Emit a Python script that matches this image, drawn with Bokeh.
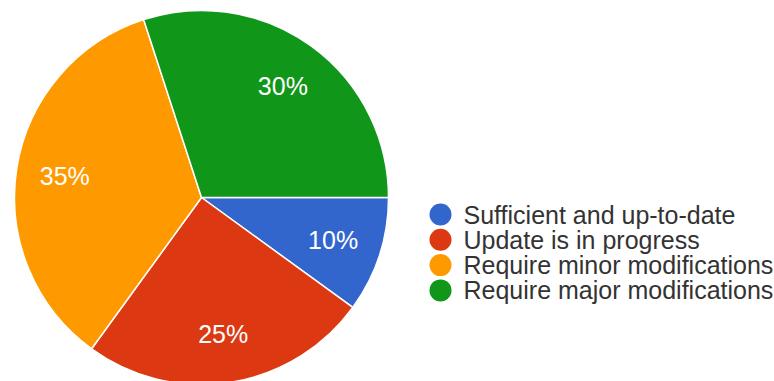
import math
from bokeh.plotting import figure
from bokeh.models import Range1d, ColumnDataSource
from bokeh.core.properties import value
from bokeh.embed import file_html
from bokeh.resources import INLINE

categories = ["Sufficient and up-to-date", "Update is in progress",
              "Require minor modifications", "Require major modifications"]
shares = [10, 25, 35, 30]
colors = ["#3366CC", "#DC3912", "#FF9900", "#109618"]

W, H = 774, 381
p = figure(width=W, height=H, x_range=Range1d(0, W), y_range=Range1d(0, H),
           output_backend="svg", toolbar_location=None, min_border=0)
p.axis.visible = False
p.grid.visible = False
p.outline_line_color = None
p.background_fill_color = "white"
p.border_fill_color = "white"

cx, cy, R = 201, H - 197, 187
total = sum(shares)
starts, ends, lx, ly, labels = [], [], [], [], []
cum = 0
for s in shares:
    a0 = -2 * math.pi * cum / total
    a1 = -2 * math.pi * (cum + s) / total
    mid = (a0 + a1) / 2
    starts.append(a0)
    ends.append(a1)
    lx.append(cx + 0.74 * R * math.cos(mid))
    ly.append(cy + 0.74 * R * math.sin(mid))
    labels.append(f"{round(100 * s / total)}%")
    cum += s

src = ColumnDataSource(dict(start=starts, end=ends, color=colors, lx=lx, ly=ly, label=labels))
p.wedge(x=cx, y=cy, radius=R, start_angle="start", end_angle="end", direction="clock",
        fill_color="color", line_color="white", line_width=1.5, source=src)
p.text(x="lx", y="ly", text="label", source=src, text_color="white",
       text_font=value("Liberation Sans"), text_font_size="25px",
       text_align="center", text_baseline="middle")

leg_y = [H - (214 + 25.3 * i) for i in range(len(categories))]
leg = ColumnDataSource(dict(x=[440] * len(categories), tx=[463] * len(categories),
                            y=leg_y, color=colors, name=categories))
p.scatter(x="x", y="y", marker="circle", size=22, fill_color="color", line_color=None, source=leg)
p.text(x="tx", y="y", text="name", source=leg, text_color="#333333",
       text_font=value("Liberation Sans"), text_font_size="25px",
       text_align="left", text_baseline="middle")

open("out.html", "w").write(file_html(p, INLINE))
